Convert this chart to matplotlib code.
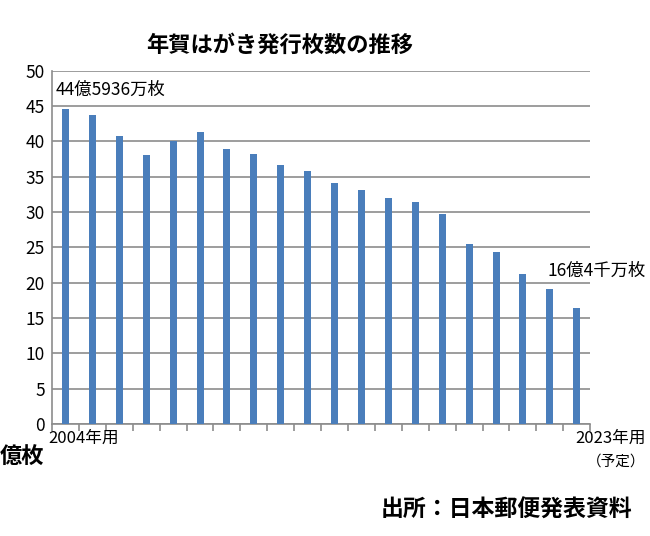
import numpy as np
import matplotlib
matplotlib.use("Agg")
import matplotlib.pyplot as plt

plt.rcParams['font.family'] = ['Noto Sans CJK JP', 'DejaVu Sans']

# 年賀はがき発行枚数（億枚）
years = list(range(2004, 2024))
counts = [44.59, 43.7, 40.75, 38.1, 40.1, 41.4, 38.9, 38.2, 36.6, 35.8,
          34.1, 33.1, 32.0, 31.4, 29.7, 25.5, 24.3, 21.3, 19.1, 16.4]
first_label = "2004年用"
last_label = "2023年用"
last_note = "（予定）"
first_value_label = "44億5936万枚"
last_value_label = "16億4千万枚"

fig = plt.figure(figsize=(6.5, 5.36), dpi=100)
ax = fig.add_axes([0.08, 0.209, 0.828, 0.659])

x = np.arange(len(years))
ax.bar(x, counts, width=0.26, color='#4a7ebb', zorder=3)

ax.set_xlim(-0.5, len(years) - 0.5)
ax.set_ylim(0, 50)
ax.set_yticks(np.arange(0, 51, 5))
ax.grid(axis='y', color='#8c8c8c', linewidth=1.2, zorder=0)
ax.tick_params(axis='y', length=0, labelsize=12.5, pad=5)

# category boundary ticks
ax.set_xticks(np.arange(-0.5, len(years), 1.0))
ax.set_xticklabels([])
ax.tick_params(axis='x', direction='out', length=5, color='#8c8c8c', width=1.2)

for s in ['top', 'right']:
    ax.spines[s].set_visible(False)
for s in ['left', 'bottom']:
    ax.spines[s].set_color('#8c8c8c')
    ax.spines[s].set_linewidth(1.2)

# category labels for first and last year
ax.text(-0.65, -0.8, first_label, ha='left', va='top', fontsize=12)
ax.text(len(years) - 0.5 + 2.05, -0.8, last_label, ha='right', va='top', fontsize=12)
ax.text(len(years) - 0.5 + 2.05, -4.3, last_note, ha='right', va='top', fontsize=10.5)

# value labels
ax.annotate(first_value_label, (x[0], counts[0]), xytext=(-7, 7),
            textcoords='offset points', ha='left', va='bottom', fontsize=12.5)
ax.annotate(last_value_label, (x[-1], counts[-1]), xytext=(-21, 20),
            textcoords='offset points', ha='left', va='bottom', fontsize=12.5)

fig.text(0.43, 0.916, "年賀はがき発行枚数の推移", ha='center', va='center',
         fontsize=16, fontweight='bold')
fig.text(0.0, 0.146, "億枚", ha='left', va='center', fontsize=16, fontweight='bold')
fig.text(0.972, 0.048, "出所：日本郵便発表資料", ha='right', va='center',
         fontsize=16.5, fontweight='bold')

fig.savefig("out.png", dpi=100, facecolor='white')
